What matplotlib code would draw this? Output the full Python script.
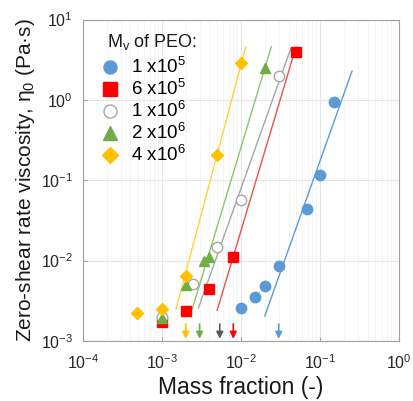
import matplotlib
matplotlib.use("Agg")
import matplotlib.pyplot as plt
from matplotlib.ticker import LogLocator, NullFormatter

plt.rcParams['font.family'] = ['Liberation Sans', 'DejaVu Sans']
plt.rcParams['mathtext.fontset'] = 'custom'
plt.rcParams['mathtext.rm'] = 'Liberation Sans'
plt.rcParams['mathtext.it'] = 'Liberation Sans:italic'

# data
labels = ['1 x10$^5$', '6 x10$^5$', '1 x10$^6$', '2 x10$^6$', '4 x10$^6$']

x_1e5 = [0.010, 0.015, 0.020, 0.030, 0.068, 0.10, 0.15]
y_1e5 = [2.6e-3, 3.5e-3, 4.8e-3, 8.5e-3, 0.044, 0.117, 0.93]

x_6e5 = [0.001, 0.002, 0.004, 0.008, 0.050]
y_6e5 = [1.7e-3, 2.35e-3, 4.4e-3, 0.011, 4.0]

x_1e6 = [0.001, 0.0025, 0.005, 0.010, 0.030]
y_1e6 = [2.0e-3, 5.1e-3, 0.0146, 0.057, 1.98]

x_2e6 = [0.001, 0.002, 0.0034, 0.004, 0.020]
y_2e6 = [1.9e-3, 5.0e-3, 9.8e-3, 0.0112, 2.5]

x_4e6 = [0.00049, 0.001, 0.002, 0.005, 0.010]
y_4e6 = [2.2e-3, 2.5e-3, 6.5e-3, 0.207, 2.87]

# power-law fit lines (end points)
fit_x = [[0.020, 0.254], [0.0050, 0.0483], [0.0029, 0.0427], [0.00242, 0.0242], [0.00151, 0.0115]]
fit_y = [[2.04e-3, 2.29], [2.4e-3, 4.17], [2.57e-3, 4.37], [2.48e-3, 4.58], [2.48e-3, 4.58]]

# critical concentration arrows
arrow_x = [0.030, 0.008, 0.0054, 0.003, 0.002]

pt_colors = ['#5B9BD5', '#FF0000', '#A6A6A6', '#70AD47', '#FFC000']
line_colors = ['#5B9BD5', '#F0504A', '#A6A6A6', '#8CC46A', '#FFD43A']
arrow_colors = ['#5B9BD5', '#FF0000', '#595959', '#70AD47', '#FFC000']
markers = ['o', 's', 'o', '^', 'D']
msizes = [7.5, 7.5, 7.5, 7.5, 6.5]

fig = plt.figure(figsize=(4.14, 4.01), dpi=100)
ax = fig.add_axes([0.200, 0.150, 0.764, 0.801])

xs = [x_1e5, x_6e5, x_1e6, x_2e6, x_4e6]
ys = [y_1e5, y_6e5, y_1e6, y_2e6, y_4e6]
for i in range(5):
    ax.plot(fit_x[i], fit_y[i], color=line_colors[i], lw=1.0, zorder=2)
    face = 'white' if i == 2 else pt_colors[i]
    ax.plot(xs[i], ys[i], ls='none', marker=markers[i], ms=msizes[i],
            mfc=face, mec=pt_colors[i], mew=1.0, label=labels[i], zorder=3)

for i in range(5):
    ax.annotate('', xy=(arrow_x[i], 1.06e-3), xytext=(arrow_x[i], 1.62e-3),
                arrowprops=dict(arrowstyle='-|>', color=arrow_colors[i], lw=1.2,
                                mutation_scale=10, shrinkA=0, shrinkB=0))

ax.set_xscale('log')
ax.set_yscale('log')
ax.set_xlim(1e-4, 1)
ax.set_ylim(1e-3, 10)
ax.xaxis.set_major_locator(LogLocator(base=10, numticks=10))
ax.yaxis.set_major_locator(LogLocator(base=10, numticks=10))
ax.xaxis.set_minor_locator(LogLocator(base=10, subs=range(2, 10), numticks=20))
ax.yaxis.set_minor_locator(LogLocator(base=10, subs=range(2, 10), numticks=20))
ax.xaxis.set_minor_formatter(NullFormatter())
ax.yaxis.set_minor_formatter(NullFormatter())

ax.grid(True, which='major', color='#E6E6E6', lw=0.8, zorder=0)
ax.grid(True, which='minor', axis='x', color='#F2F2F2', lw=0.6, zorder=0)
ax.set_axisbelow(True)
for s in ax.spines.values():
    s.set_color('#A0A0A0')
ax.tick_params(which='major', direction='in', length=3, color='#A0A0A0',
               labelsize=11.5, labelcolor='#262626')
ax.tick_params(axis='x', which='major', pad=9)
ax.tick_params(axis='y', which='major', pad=7)
ax.tick_params(which='minor', length=0)

ax.set_xlabel('Mass fraction (-)', fontsize=16.5, color='#1a1a1a', labelpad=3)
ax.set_ylabel('Zero-shear rate viscosity, η$_0$ (Pa·s)', fontsize=15,
              color='#1a1a1a', labelpad=3)

# legend title drawn separately to control the gap below it
ax.text(0.078, 0.93, 'M$_\\mathrm{v}$ of PEO:', transform=ax.transAxes,
        fontsize=13, color='#1a1a1a', va='center', ha='left')
leg = ax.legend(loc='upper left', bbox_to_anchor=(0.045, 0.895), frameon=False,
                fontsize=13.5, handletextpad=0.6, labelspacing=0.1,
                handlelength=1.0, borderaxespad=0.0, borderpad=0.2,
                markerscale=1.25)

fig.savefig('out.png', dpi=100)
